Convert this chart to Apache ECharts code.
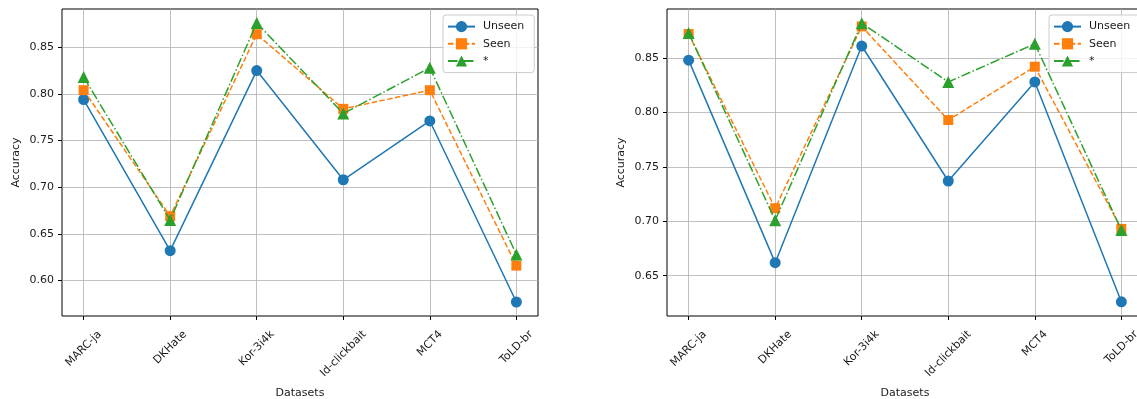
<!DOCTYPE html>
<html>
<head>
<meta charset="utf-8">
<script src="https://cdn.jsdelivr.net/npm/echarts@6/dist/echarts.min.js"></script>
<style>
  html, body { margin: 0; padding: 0; background: #fff; }
  #chart { width: 1137px; height: 399px; }
</style>
</head>
<body>
<div id="chart"></div>
<script>
const chart = echarts.init(document.getElementById("chart"));

// ---- data ----
const datasets = ["MARC-ja", "DKHate", "Kor-3i4k", "Id-clickbait", "MCT4", "ToLD-br"];
const seriesNames = ["Unseen", "Seen", "*"];

const leftUnseen = [0.794, 0.632, 0.825, 0.708, 0.771, 0.577];
const leftSeen   = [0.804, 0.669, 0.864, 0.784, 0.804, 0.616];
const leftStar   = [0.818, 0.665, 0.876, 0.779, 0.828, 0.628];

const rightUnseen = [0.848, 0.662, 0.861, 0.737, 0.828, 0.626];
const rightSeen   = [0.872, 0.712, 0.879, 0.793, 0.842, 0.693];
const rightStar   = [0.873, 0.701, 0.882, 0.828, 0.863, 0.692];

const leftTicks  = [0.60, 0.65, 0.70, 0.75, 0.80, 0.85];
const rightTicks = [0.65, 0.70, 0.75, 0.80, 0.85];

// ---- styles ----
const FONT = "DejaVu Sans";
const FS = 11;
const TXT = "#1a1a1a";
const GRIDC = "#b0b0b0";

const styles = [
  { color: "#1f77b4", symbol: "circle", size: 11, type: "solid" },
  { color: "#ff7f0e", symbol: "rect", size: 10, type: [5.5, 2.4] },
  { color: "#2ca02c", symbol: "triangle", size: 12, type: [9.6, 2.4, 1.5, 2.4] }
];

// matplotlib centres rotated tick labels under the tick; shift each label
// by padding that depends on its own width
const measure = document.createElement("canvas").getContext("2d");
measure.font = FS + "px '" + FONT + "'";
const labelRich = {};
datasets.forEach((d, i) => {
  const pad = (measure.measureText(d).width + 13) / 2;
  labelRich["c" + i] = {
    fontFamily: FONT, fontSize: FS, color: TXT,
    padding: [pad, pad, 0, 0]
  };
});

function pairs(arr) {
  return arr.map((v, i) => [i, v]);
}

function xAxisFor(gridIndex) {
  return {
    type: "value",
    gridIndex,
    min: -0.25,
    max: 5.25,
    name: "Datasets",
    nameLocation: "middle",
    nameGap: 72,
    nameMoveOverlap: false,
    nameTextStyle: { fontFamily: FONT, fontSize: FS, color: TXT },
    axisLine: { show: false, onZero: false },
    axisTick: { show: true, length: 4, lineStyle: { color: "#000" }, customValues: [0, 1, 2, 3, 4, 5] },
    axisLabel: {
      customValues: [0, 1, 2, 3, 4, 5],
      rotate: 45,
      margin: 12,
      align: "center",
      verticalAlign: "middle",
      fontFamily: FONT,
      fontSize: FS,
      color: TXT,
      rich: labelRich,
      formatter: v => {
        const i = Math.round(v);
        return "{c" + i + "|" + datasets[i] + "}";
      }
    },
    splitLine: { show: true, lineStyle: { color: GRIDC, width: 0.8 } }
  };
}

function yAxisFor(gridIndex, min, max, ticks) {
  return {
    type: "value",
    gridIndex,
    min,
    max,
    name: "Accuracy",
    nameLocation: "middle",
    nameGap: 40,
    nameMoveOverlap: false,
    nameTextStyle: { fontFamily: FONT, fontSize: FS, color: TXT },
    axisLine: { show: false, onZero: false },
    axisTick: { show: true, length: 4, lineStyle: { color: "#000" }, customValues: ticks },
    axisLabel: {
      customValues: ticks,
      margin: 8,
      fontFamily: FONT,
      fontSize: FS,
      color: TXT,
      formatter: v => v.toFixed(2)
    },
    splitLine: { show: true, lineStyle: { color: GRIDC, width: 0.8 } }
  };
}

function makeSeries(values, idx, axisIndex) {
  const s = styles[idx];
  return {
    name: seriesNames[idx],
    type: "line",
    xAxisIndex: axisIndex,
    yAxisIndex: axisIndex,
    data: pairs(values),
    symbol: s.symbol,
    symbolSize: s.size,
    showAllSymbol: true,
    itemStyle: { color: s.color },
    lineStyle: { color: s.color, width: 1.5, type: s.type },
    z: 3 + idx
  };
}

function legendAt(left) {
  return {
    orient: "vertical",
    left,
    top: 15,
    padding: [6, 10, 6, 4],
    itemWidth: 27,
    itemHeight: 14,
    itemGap: 6,
    borderColor: "#cccccc",
    borderWidth: 1,
    borderRadius: 3,
    backgroundColor: "rgba(255,255,255,0.8)",
    selectedMode: false,
    textStyle: { fontFamily: FONT, fontSize: FS, color: TXT, padding: [0, 0, 0, 3] },
    data: seriesNames
  };
}

const gridBase = {
  top: 9,
  bottom: 83,
  show: true,
  borderColor: "#000",
  borderWidth: 1,
  backgroundColor: "transparent",
  containLabel: false,
  outerBoundsMode: "none"
};

chart.setOption({
  animation: false,
  backgroundColor: "#fff",
  grid: [
    Object.assign({ left: 62, right: 599 }, gridBase),
    Object.assign({ left: 667, right: -6 }, gridBase)
  ],
  legend: [legendAt(443), legendAt(1049)],
  xAxis: [xAxisFor(0), xAxisFor(1)],
  yAxis: [
    yAxisFor(0, 0.562, 0.891, leftTicks),
    yAxisFor(1, 0.613, 0.895, rightTicks)
  ],
  series: [
    makeSeries(leftUnseen, 0, 0),
    makeSeries(leftSeen, 1, 0),
    makeSeries(leftStar, 2, 0),
    makeSeries(rightUnseen, 0, 1),
    makeSeries(rightSeen, 1, 1),
    makeSeries(rightStar, 2, 1)
  ]
});
</script>
</body>
</html>
